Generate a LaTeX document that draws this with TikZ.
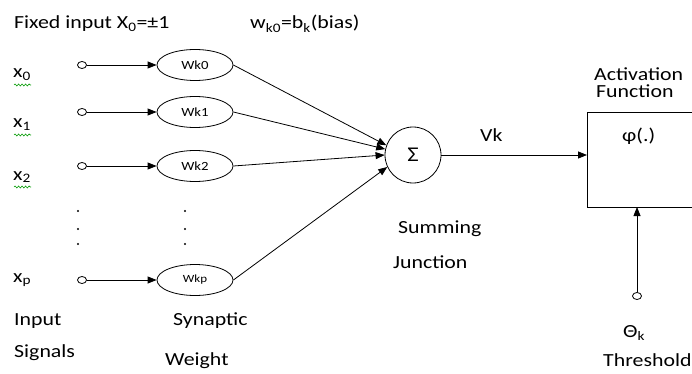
\documentclass[tikz,border=0pt]{standalone}
\usepackage{fontspec}
\setmainfont{Carlito}[FakeStretch=1.18]
\usetikzlibrary{arrows.meta,decorations.pathmorphing,shapes.geometric}
\tikzset{
  lbl/.style={inner sep=0pt, anchor=base west, font=\fontsize{18.5}{20}\selectfont},
  head/.style={lbl},
  wt/.style={draw, ellipse, minimum width=76pt, minimum height=31pt, inner sep=0pt, line width=0.8pt, font=\fontsize{12.5}{14}\selectfont},
  tap/.style={draw, ellipse, minimum width=9pt, minimum height=7pt, inner sep=0pt, fill=white, line width=0.8pt},
  conn/.style={-{Triangle[length=9pt,width=7pt]}, line width=0.8pt},
  sq/.style={green!60!black, line width=0.6pt, decorate, decoration={snake, amplitude=1pt, segment length=3.5pt}},
  dotm/.style={circle, fill=black, inner sep=0pt, minimum size=2.4pt}
}
\begin{document}
\begin{tikzpicture}[x=1pt,y=-1pt]
\useasboundingbox (0,0) rectangle (692,374);

% headings
\node[head] (fixed) at (14,29) {Fixed input X\textsubscript{0}=±1};
\node[head] (bias) at (250,29) {w\textsubscript{k0}=b\textsubscript{k}(bias)};

% input labels
\node[lbl] (x0) at (13,78) {x\textsubscript{0}};
\node[lbl] (x1) at (13,128) {x\textsubscript{1}};
\node[lbl] (x2) at (13,180) {x\textsubscript{2}};
\node[lbl] (xp) at (13,282) {x\textsubscript{p}};
\draw[sq] (14,85) -- (31,85);
\draw[sq] (14,135) -- (31,135);
\draw[sq] (14,187) -- (31,187);

% input taps
\node[tap] (t0) at (82,65) {};
\node[tap] (t1) at (82,112) {};
\node[tap] (t2) at (82,166) {};
\node[tap] (tp) at (82,280) {};

% synaptic weights
\node[wt] (w0) at (195,65) {Wk0};
\node[wt] (w1) at (195,112) {Wk1};
\node[wt] (w2) at (195,166) {Wk2};
\node[wt, font=\fontsize{11}{13}\selectfont] (wp) at (195,280) {Wkp};

\foreach \a/\b in {t0/w0,t1/w1,t2/w2,tp/wp} \draw[conn] (\a) -- (\b);

% ellipsis dots
\foreach \yy in {211,229,244} {
  \node[dotm] at (78,\yy) {};
  \node[dotm] at (185,\yy) {};
}

% summing junction
\node[draw, circle, minimum size=56pt, inner sep=0pt, line width=0.8pt, font=\fontsize{21}{22}\selectfont] (sum) at (413,155) {Σ};

\draw[conn] (w0.east) -- (sum.160);
\draw[conn] (w1.east) -- (sum.168);
\draw[conn] (w2.east) -- (sum.180);
\draw[conn] (wp.east) -- (sum.205);

% activation block (runs on past the right edge)
\coordinate (bl) at (587,207);
\coordinate (tl) at (587,112);
\draw[line width=0.9pt] (693,112) -- (tl) -- (bl) -- (693,207);
\coordinate (fin) at (587,155);
\draw[conn] (sum.east) -- (fin);
\node[lbl] (vk) at (480,142) {Vk};
\node[lbl] (phi) at (622,142) {φ(.)};
\node[lbl] (act) at (594,81) {Activation};
\node[lbl] (fun) at (596,98) {Function};

% threshold
\node[tap] (th) at (637,296) {};
\coordinate (bin) at (637,207);
\draw[conn] (th) -- (bin);
\node[lbl] (theta) at (623,337) {Θ\textsubscript{k}};
\node[lbl] (thr) at (603,366) {Threshold};

% captions
\node[lbl] (in1) at (14,325) {Input};
\node[lbl] (in2) at (14,357) {Signals};
\node[lbl] (sy1) at (173,325) {Synaptic};
\node[lbl] (sy2) at (165,365) {Weight};
\node[lbl] (su1) at (398,233) {Summing};
\node[lbl] (su2) at (393,268) {Junction};
\end{tikzpicture}
\end{document}
